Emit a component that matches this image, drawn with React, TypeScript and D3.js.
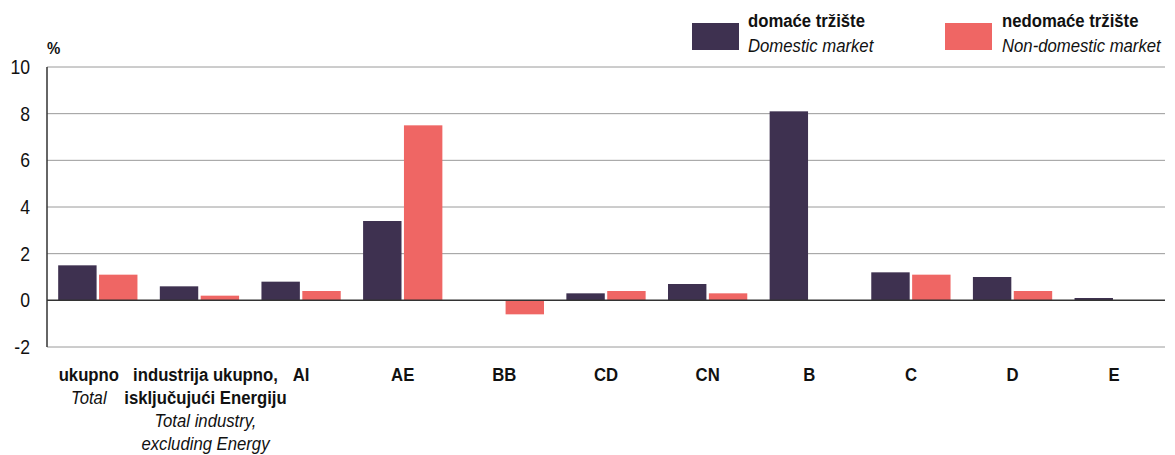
import React from "react";
import * as d3 from "d3";

const categories = ["ukupno", "industrija", "AI", "AE", "BB", "CD", "CN", "B", "C", "D", "E"];
const labelLines = [
  [["ukupno", false], ["Total", true]],
  [["industrija ukupno,", false], ["isključujući Energiju", false], ["Total industry,", true], ["excluding Energy", true]],
  [["AI", false]],
  [["AE", false]],
  [["BB", false]],
  [["CD", false]],
  [["CN", false]],
  [["B", false]],
  [["C", false]],
  [["D", false]],
  [["E", false]],
];
const domestic = [1.5, 0.6, 0.8, 3.4, 0, 0.3, 0.7, 8.1, 1.2, 1.0, 0.1];
const nonDomestic = [1.1, 0.2, 0.4, 7.5, -0.6, 0.4, 0.3, 0, 1.1, 0.4, 0];
const yTicks = [-2, 0, 2, 4, 6, 8, 10];
const seriesNames = [
  ["domaće tržište", "Domestic market"],
  ["nedomaće tržište", "Non-domestic market"],
];
const colors = ["#3e3150", "#ef6664"];

const W = 1175;
const H = 455;
const font = "'Liberation Sans', Arial, sans-serif";
const SX = 0.88;

// condensed text: squeeze horizontally around the anchor point
function CText(props: any) {
  const { x, y, children, ...rest } = props;
  return (
    <text transform={`translate(${x},${y}) scale(${SX},1)`} fill="#111" {...rest}>
      {children}
    </text>
  );
}

export default function App() {
  const left = 47;
  const right = 1165;
  const y = d3.scaleLinear().domain([-2, 10]).range([347, 67]);
  const x0 = d3.scaleBand<string>().domain(categories).range([left, right]).paddingInner(0.22).paddingOuter(0.11);
  const x1 = d3.scaleBand<string>().domain(["d", "n"]).range([0, x0.bandwidth()]).paddingInner(0.06);
  // the first two labels sit slightly apart in the original
  const labelShift: Record<string, number> = { ukupno: -9, industrija: 6 };

  return (
    <svg width={W} height={H} style={{ position: "absolute", left: 0, top: 0 }} fontFamily={font}>
      {yTicks.map((t) => (
        <g key={t}>
          {t !== 0 && (
            <line x1={left} x2={right} y1={y(t)} y2={y(t)} stroke="#9a9a9a" strokeWidth={1} />
          )}
          <CText x={30} y={y(t)} dy="0.35em" textAnchor="end" fontSize={20}>
            {t}
          </CText>
        </g>
      ))}
      <CText x={47} y={54} fontSize={17} fontWeight="bold">%</CText>
      {categories.map((c, i) => (
        <g key={c}>
          <rect
            x={x0(c)! + x1("d")!}
            width={x1.bandwidth()}
            y={Math.min(y(domestic[i]), y(0))}
            height={Math.abs(y(domestic[i]) - y(0))}
            fill={colors[0]}
          />
          <rect
            x={x0(c)! + x1("n")!}
            width={x1.bandwidth()}
            y={Math.min(y(nonDomestic[i]), y(0))}
            height={Math.abs(y(nonDomestic[i]) - y(0))}
            fill={colors[1]}
          />
          {labelLines[i].map(([txt, it], j) => (
            <CText
              key={j}
              x={x0(c)! + x0.bandwidth() / 2 + (labelShift[c] || 0)}
              y={381 + j * 23}
              textAnchor="middle"
              fontSize={19}
              fontWeight={it ? "normal" : "bold"}
              fontStyle={it ? "italic" : "normal"}
            >
              {txt as string}
            </CText>
          ))}
        </g>
      ))}
      <line x1={left} x2={right} y1={y(0)} y2={y(0)} stroke="#333" strokeWidth={1.5} />
      <line x1={left} x2={left} y1={y(10)} y2={y(-2)} stroke="#333" strokeWidth={1.5} />
      {seriesNames.map((s, i) => {
        const lx = i === 0 ? 692 : 945;
        const tx = lx + (i === 0 ? 56 : 57);
        return (
          <g key={i}>
            <rect x={lx} y={23} width={47} height={27} fill={colors[i]} />
            <CText x={tx} y={27} fontSize={19} fontWeight="bold">{s[0]}</CText>
            <CText x={tx} y={52} fontSize={19} fontStyle="italic">{s[1]}</CText>
          </g>
        );
      })}
    </svg>
  );
}
